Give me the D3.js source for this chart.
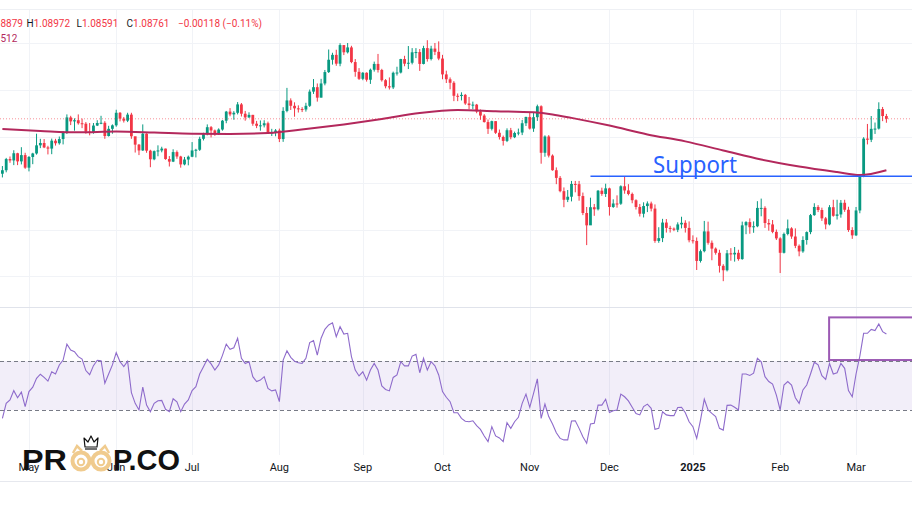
<!DOCTYPE html>
<html><head><meta charset="utf-8">
<script src="https://cdn.jsdelivr.net/npm/d3@7"></script>
<style>html,body{margin:0;padding:0;background:#fff;overflow:hidden}</style>
</head><body>
<svg id="c" width="912" height="513"></svg>
<script>
// ---------- DATA ----------
const firstOpen = 1.0640;
const closes = [1.0655,1.0703,1.0697,1.0728,1.0693,1.0720,1.0666,1.0712,1.0727,1.0762,
1.0772,1.0753,1.0748,1.0782,1.0771,1.0789,1.0818,1.0882,1.0865,1.0870,
1.0857,1.0855,1.0821,1.0819,1.0847,1.0858,1.0859,1.0802,1.0833,1.0848,
1.0902,1.0877,1.0868,1.0894,1.0801,1.0765,1.0740,1.0812,1.0739,1.0702,
1.0737,1.0740,1.0748,1.0703,1.0692,1.0733,1.0714,1.0680,1.0701,1.0713,
1.0740,1.0743,1.0790,1.0810,1.0840,1.0826,1.0815,1.0830,1.0868,1.0907,
1.0895,1.0902,1.0938,1.0898,1.0882,1.0893,1.0855,1.0846,1.0848,1.0857,
1.0817,1.0817,1.0826,1.0789,1.0910,1.0955,1.0932,1.0921,1.0918,1.0916,
1.0932,1.0993,1.1012,1.0967,1.1028,1.1077,1.1130,1.1151,1.1113,1.1193,
1.1162,1.1183,1.1120,1.1078,1.1048,1.1074,1.1044,1.1087,1.1112,1.1086,
1.1042,1.1016,1.1011,1.1074,1.1075,1.1133,1.1113,1.1117,1.1162,1.1163,
1.1112,1.1180,1.1133,1.1178,1.1164,1.1135,1.1067,1.1046,1.1031,1.0975,
1.0974,1.0979,1.0942,1.0935,1.0937,1.0908,1.0890,1.0862,1.0833,1.0866,
1.0816,1.0798,1.0781,1.0827,1.0797,1.0815,1.0817,1.0857,1.0884,1.0834,
1.0883,1.0930,1.0730,1.0800,1.0718,1.0655,1.0622,1.0565,1.0528,1.0541,
1.0596,1.0595,1.0544,1.0471,1.0418,1.0496,1.0487,1.0567,1.0553,1.0577,
1.0497,1.0512,1.0511,1.0586,1.0568,1.0553,1.0526,1.0497,1.0468,1.0501,
1.0512,1.0490,1.0351,1.0363,1.0430,1.0407,1.0404,1.0399,1.0422,1.0429,
1.0407,1.0354,1.0351,1.0265,1.0307,1.0392,1.0343,1.0318,1.0300,1.0244,
1.0225,1.0298,1.0293,1.0300,1.0273,1.0418,1.0432,1.0410,1.0414,1.0493,
1.0493,1.0428,1.0422,1.0390,1.0362,1.0300,1.0381,1.0405,1.0370,1.0330,
1.0306,1.0355,1.0389,1.0462,1.0497,1.0484,1.0448,1.0422,1.0496,1.0459,
1.0465,1.0515,1.0485,1.0398,1.0375,1.0482,1.0626,1.0791,1.0786,1.0833,
1.0834,1.0918,1.08879,1.08761];
const highs = [1.0673,1.0708,1.0714,1.0741,1.0730,1.0754,1.0730,1.0716,1.0730,1.0812,
1.0790,1.0789,1.0760,1.0791,1.0790,1.0800,1.0823,1.0895,1.0889,1.0878,
1.0895,1.0877,1.0862,1.0858,1.0858,1.0870,1.0889,1.0866,1.0846,1.0852,
1.0915,1.0905,1.0884,1.0902,1.0902,1.0790,1.0768,1.0852,1.0814,1.0743,
1.0740,1.0762,1.0756,1.0748,1.0716,1.0745,1.0740,1.0717,1.0712,1.0718,
1.0776,1.0747,1.0799,1.0816,1.0852,1.0845,1.0830,1.0835,1.0871,1.0910,
1.0922,1.0909,1.0948,1.0944,1.0910,1.0904,1.0893,1.0867,1.0869,1.0870,
1.0864,1.0833,1.0832,1.0834,1.0926,1.1009,1.0964,1.0947,1.0934,1.0926,
1.0945,1.1002,1.1047,1.1028,1.1048,1.1086,1.1174,1.1160,1.1173,1.1201,
1.1193,1.1202,1.1190,1.1133,1.1094,1.1077,1.1076,1.1092,1.1122,1.1155,
1.1091,1.1047,1.1054,1.1079,1.1100,1.1134,1.1147,1.1189,1.1180,1.1180,
1.1176,1.1190,1.1214,1.1190,1.1202,1.1209,1.1151,1.1083,1.1054,1.1038,
1.0985,1.0990,1.0983,1.0970,1.0950,1.0940,1.0916,1.0896,1.0873,1.0868,
1.0866,1.0830,1.0804,1.0835,1.0837,1.0821,1.0834,1.0871,1.0885,1.0905,
1.0902,1.0937,1.0934,1.0805,1.0806,1.0723,1.0667,1.0630,1.0581,1.0570,
1.0609,1.0609,1.0609,1.0559,1.0497,1.0537,1.0510,1.0570,1.0580,1.0597,
1.0580,1.0530,1.0547,1.0590,1.0630,1.0595,1.0559,1.0530,1.0510,1.0517,
1.0521,1.0520,1.0508,1.0410,1.0446,1.0445,1.0416,1.0409,1.0431,1.0455,
1.0440,1.0435,1.0375,1.0366,1.0314,1.0437,1.0434,1.0353,1.0323,1.0313,
1.0251,1.0312,1.0320,1.0325,1.0313,1.0434,1.0436,1.0448,1.0435,1.0522,
1.0533,1.0500,1.0445,1.0441,1.0400,1.0367,1.0387,1.0443,1.0410,1.0405,
1.0336,1.0371,1.0392,1.0467,1.0513,1.0505,1.0494,1.0454,1.0505,1.0528,
1.0528,1.0527,1.0528,1.0498,1.0410,1.0497,1.0630,1.0797,1.0854,1.0888,
1.0860,1.0947,1.0927,1.08972];
const lows = [1.0624,1.0646,1.0687,1.0677,1.0677,1.0680,1.0661,1.0650,1.0681,1.0722,
1.0750,1.0750,1.0723,1.0724,1.0761,1.0765,1.0766,1.0811,1.0849,1.0825,
1.0851,1.0836,1.0812,1.0805,1.0812,1.0845,1.0853,1.0790,1.0800,1.0812,
1.0842,1.0865,1.0860,1.0862,1.0790,1.0731,1.0720,1.0738,1.0730,1.0668,
1.0698,1.0715,1.0732,1.0700,1.0671,1.0690,1.0704,1.0666,1.0676,1.0676,
1.0711,1.0710,1.0738,1.0783,1.0805,1.0796,1.0803,1.0807,1.0825,1.0857,
1.0887,1.0872,1.0895,1.0886,1.0868,1.0880,1.0846,1.0836,1.0825,1.0839,
1.0812,1.0802,1.0801,1.0776,1.0777,1.0904,1.0914,1.0885,1.0903,1.0905,
1.0907,1.0927,1.0983,1.0950,1.0968,1.1020,1.1073,1.1109,1.1104,1.1102,
1.1150,1.1157,1.1115,1.1057,1.1043,1.1042,1.1036,1.1026,1.1079,1.1075,
1.1036,1.1007,1.1002,1.1004,1.1062,1.1071,1.1102,1.1090,1.1110,1.1137,
1.1082,1.1110,1.1122,1.1127,1.1150,1.1128,1.1046,1.1030,1.1003,1.0952,
1.0952,1.0955,1.0936,1.0917,1.0917,1.0900,1.0872,1.0860,1.0811,1.0826,
1.0811,1.0787,1.0761,1.0776,1.0788,1.0793,1.0805,1.0806,1.0845,1.0830,
1.0820,1.0867,1.0683,1.0713,1.0710,1.0653,1.0595,1.0560,1.0496,1.0518,
1.0521,1.0560,1.0524,1.0462,1.0333,1.0424,1.0459,1.0482,1.0545,1.0540,
1.0460,1.0493,1.0494,1.0506,1.0554,1.0547,1.0513,1.0486,1.0456,1.0452,
1.0475,1.0478,1.0343,1.0343,1.0346,1.0387,1.0387,1.0393,1.0389,1.0405,
1.0387,1.0345,1.0340,1.0226,1.0258,1.0302,1.0335,1.0268,1.0292,1.0215,
1.0178,1.0220,1.0266,1.0262,1.0266,1.0270,1.0380,1.0382,1.0386,1.0410,
1.0457,1.0407,1.0395,1.0384,1.0355,1.0213,1.0297,1.0375,1.0360,1.0320,
1.0285,1.0300,1.0335,1.0380,1.0459,1.0475,1.0437,1.0401,1.0418,1.0455,
1.0443,1.0451,1.0476,1.0390,1.0360,1.0372,1.0470,1.0625,1.0766,1.0776,
1.0811,1.0830,1.0866,1.08591];
const rsiValues = [36.6,42.7,44.1,47.9,45.0,47.3,41.4,47.5,49.3,52.9,
54.6,53.3,51.8,55.6,54.7,58.4,60.4,66.9,64.5,63.8,
61.8,60.8,56.1,54.4,58.1,60.3,60.1,50.9,54.7,58.4,
63.4,59.7,57.7,59.9,47.1,42.7,40.0,49.3,42.0,39.3,
42.7,43.8,43.9,40.3,39.3,44.6,43.3,39.3,42.4,44.1,
47.9,49.5,54.7,57.7,60.7,58.8,56.3,58.4,62.3,66.9,
64.8,65.4,69.3,61.1,59.0,59.7,53.6,51.6,52.2,53.6,
48.8,47.8,48.2,43.4,60.4,64.2,61.5,59.9,59.3,59.0,
61.1,67.5,68.3,62.4,69.3,72.9,74.7,75.6,69.9,74.0,
71.0,71.3,61.8,56.3,53.9,55.6,52.2,56.3,59.0,56.3,
49.8,48.4,47.8,53.3,54.3,59.7,58.0,58.0,62.0,62.7,
55.2,61.1,56.3,59.7,58.0,54.3,47.5,45.2,43.4,38.9,
38.9,36.6,35.4,35.2,35.6,33.6,32.1,29.4,27.1,33.2,
29.4,28.6,27.1,34.8,32.5,35.2,37.0,42.7,46.5,41.1,
46.8,52.7,36.6,42.4,37.3,34.3,30.7,28.4,27.8,27.8,
35.5,35.6,32.5,29.1,26.4,34.3,34.6,42.0,42.0,44.4,
39.0,39.7,40.0,46.5,45.4,43.7,41.1,38.6,38.0,41.4,
42.4,40.7,32.1,32.5,39.3,38.0,37.7,37.7,41.0,41.1,
38.9,35.2,33.2,28.4,35.9,44.4,40.0,38.6,37.3,32.5,
31.8,41.9,42.0,41.1,40.0,54.7,54.7,54.1,55.0,61.1,
59.7,53.6,51.6,50.6,46.1,40.0,50.2,51.6,50.2,45.0,
42.7,48.2,50.2,54.7,59.5,58.4,54.0,52.5,59.0,54.7,
55.2,59.0,57.0,47.9,45.4,54.7,62.0,71.3,71.3,72.9,
72.4,75.1,72.0,71.0];
const maIndex = [0,10,20,30,40,50,60,70,80,90,100,110,120,130,140,145,150,155,160,170,180,190,200,210,220,226,233];
const maValue = [1.0832,1.0824,1.0818,1.0821,1.0817,1.0812,1.0811,1.0815,1.0832,1.0852,1.0875,1.0901,1.0914,1.0909,1.0904,1.0895,1.0880,1.0864,1.0847,1.0809,1.0779,1.0740,1.0701,1.0671,1.0647,1.0634,1.0655];
const tickIndex = [7,30,50,73,95,116,139,160,182,205,225];
const tickLabels = ["May","Jun","Jul","Aug","Sep","Oct","Nov","Dec","2025","Feb","Mar"];
const priceTicks = [1.02,1.04,1.06,1.08,1.10,1.12];
const rsiBands = [60,40];
const supportLevel = 1.0629, supportFrom = 155, supportTo = 245, supportLabelAt = 171.5;
const rsiBox = {from: 217.9, to: 245, top: 77.8, bottom: 60.4};
const legend = {Ovis: "8879", H: "1.08972", L: "1.08591", C: "1.08761", chg: "−0.00118 (−0.11%)", ma: "512"};
const lastPrice = 1.08761;

// ---------- SCALES ----------
const n = closes.length;
const opens = closes.map((c,i)=> i===0 ? firstOpen : closes[i-1]);
const x = d3.scaleLinear().domain([0, 233]).range([2.4, 886.4]);
const y = d3.scaleLinear().domain([1.02, 1.12]).range([276.06, 43.46]);
const yr = d3.scaleLinear().domain([40, 60]).range([410, 361]);
const UP = "#089981", DN = "#f23645";

const svg = d3.select("#c");
svg.append("rect").attr("width",912).attr("height",513).attr("fill","#fff");

// grid
const grid = svg.append("g");
grid.append("line").attr("x1",0).attr("x2",912).attr("y1",9.5).attr("y2",9.5).attr("stroke","#eef0f4");
grid.selectAll(".hg").data(priceTicks).join("line")
  .attr("x1",0).attr("x2",912).attr("y1",d=>Math.round(y(d))+0.5).attr("y2",d=>Math.round(y(d))+0.5)
  .attr("stroke","#f1f3f7");
grid.selectAll(".vg").data(tickIndex).join("line")
  .attr("x1",d=>Math.round(x(d))+0.5).attr("x2",d=>Math.round(x(d))+0.5).attr("y1",10).attr("y2",455)
  .attr("stroke","#f1f3f7");
svg.append("line").attr("x1",0).attr("x2",912).attr("y1",307.5).attr("y2",307.5).attr("stroke","#e0e3eb");
svg.append("line").attr("x1",0).attr("x2",912).attr("y1",481.5).attr("y2",481.5).attr("stroke","#e6e8ee");

// candles
const cg = svg.append("g");
const idx = d3.range(n);
cg.selectAll(".wick").data(idx).join("line")
  .attr("x1",i=>x(i)).attr("x2",i=>x(i))
  .attr("y1",i=>y(highs[i])).attr("y2",i=>y(lows[i]))
  .attr("stroke",i=>closes[i]>=opens[i]?UP:DN).attr("stroke-width",1);
cg.selectAll(".body").data(idx).join("rect")
  .attr("x",i=>x(i)-1.4).attr("width",2.8)
  .attr("y",i=>y(Math.max(opens[i],closes[i])))
  .attr("height",i=>Math.max(1,Math.abs(y(opens[i])-y(closes[i]))))
  .attr("fill",i=>closes[i]>=opens[i]?UP:DN);

// moving average
svg.append("path").datum(maIndex.map((d,k)=>[d,maValue[k]]))
  .attr("d", d3.line().x(d=>x(d[0])).y(d=>y(d[1])).curve(d3.curveMonotoneX))
  .attr("fill","none").attr("stroke","#b3285c").attr("stroke-width",2);

// last price dotted line
svg.append("line").attr("x1",0).attr("x2",912)
  .attr("y1",y(lastPrice)).attr("y2",y(lastPrice))
  .attr("stroke",DN).attr("stroke-opacity",0.55).attr("stroke-dasharray","1,2");

// support
svg.append("line").attr("x1",x(supportFrom)).attr("x2",x(supportTo))
  .attr("y1",y(supportLevel)).attr("y2",y(supportLevel))
  .attr("stroke","#2962ff").attr("stroke-width",1.5);
svg.append("text").attr("x",x(supportLabelAt)).attr("y",y(supportLevel)-3)
  .attr("font-family","'Noto Sans', 'Open Sans', sans-serif").attr("font-size",23)
  .attr("textLength",84).attr("lengthAdjust","spacingAndGlyphs")
  .attr("fill","#2962ff").text("Support");

// RSI band
svg.append("rect").attr("x",0).attr("width",912)
  .attr("y",yr(rsiBands[0])).attr("height",yr(rsiBands[1])-yr(rsiBands[0]))
  .attr("fill","#7e57c2").attr("fill-opacity",0.1);
svg.selectAll(".band").data(rsiBands).join("line")
  .attr("x1",0).attr("x2",912).attr("y1",d=>Math.round(yr(d))+0.5).attr("y2",d=>Math.round(yr(d))+0.5)
  .attr("stroke","#787b86").attr("stroke-dasharray","4,3").attr("stroke-width",1);
svg.append("path").datum(rsiValues)
  .attr("d", d3.line().x((d,i)=>x(i)).y(d=>yr(d)))
  .attr("fill","none").attr("stroke","#8e6bcb").attr("stroke-width",1.1);
svg.append("rect").attr("x",x(rsiBox.from)).attr("y",yr(rsiBox.top))
  .attr("width",x(rsiBox.to)-x(rsiBox.from)).attr("height",yr(rsiBox.bottom)-yr(rsiBox.top))
  .attr("fill","none").attr("stroke","#9c5ab4").attr("stroke-width",2);

// time axis labels
svg.selectAll(".tl").data(tickIndex).join("text")
  .attr("x",d=>x(d)).attr("y",471).attr("text-anchor","middle")
  .attr("font-family","Roboto, sans-serif").attr("font-size",11)
  .attr("font-weight",(d,k)=>tickLabels[k]==="2025"?"bold":"normal")
  .attr("fill","#131722").text((d,k)=>tickLabels[k]);

// legend
const red = "#f23645", dark = "#131722";
function piece(xp, label, val){
  const t = svg.append("text").attr("x",xp).attr("y",27).attr("font-family","Roboto, sans-serif").attr("font-size",10);
  if (label) t.append("tspan").attr("fill",dark).text(label);
  t.append("tspan").attr("fill",red).text(val);
  return t;
}
piece(0.5,"",legend.Ovis);
piece(26.5,"H",legend.H);
piece(76.5,"L",legend.L);
piece(126.5,"C",legend.C);
svg.append("text").attr("x",178).attr("y",27).attr("font-family","Roboto, sans-serif").attr("font-size",10).attr("fill",red).text(legend.chg);
svg.append("text").attr("x",0.5).attr("y",42).attr("font-family","Roboto, sans-serif").attr("font-size",10).attr("fill","#b3285c").text(legend.ma);

// logo
const logo = svg.append("g");
logo.append("text").attr("x",22).attr("y",470).attr("font-family","'Liberation Sans', Arial, sans-serif")
  .attr("font-weight","bold").attr("font-size",30).attr("textLength",45).attr("lengthAdjust","spacingAndGlyphs")
  .attr("fill","#111").text("PR");
logo.append("text").attr("x",113).attr("y",470).attr("font-family","'Liberation Sans', Arial, sans-serif")
  .attr("font-weight","bold").attr("font-size",30).attr("textLength",67).attr("lengthAdjust","spacingAndGlyphs")
  .attr("fill","#111").text("P.CO");
const tan = "#f0cb8e";
[81,101].forEach(cx=>{
  logo.append("circle").attr("cx",cx).attr("cy",461).attr("r",8.5).attr("fill","none").attr("stroke",tan).attr("stroke-width",4);
  logo.append("circle").attr("cx",cx).attr("cy",462).attr("r",3.2).attr("fill","none").attr("stroke",tan).attr("stroke-width",2);
});
logo.append("path").attr("d","M73,453 L77,446 L82,451 M109,453 L105,446 L100,451")
  .attr("fill","none").attr("stroke",tan).attr("stroke-width",2.5);
logo.append("path").attr("d","M85,447 L84,438 L88,442 L91,436 L94,442 L98,438 L97,447 Z")
  .attr("fill","none").attr("stroke","#111").attr("stroke-width",1.2).attr("stroke-linejoin","round");
logo.append("line").attr("x1",85).attr("x2",97).attr("y1",449).attr("y2",449).attr("stroke","#111").attr("stroke-width",1.2);
</script>
</body></html>
